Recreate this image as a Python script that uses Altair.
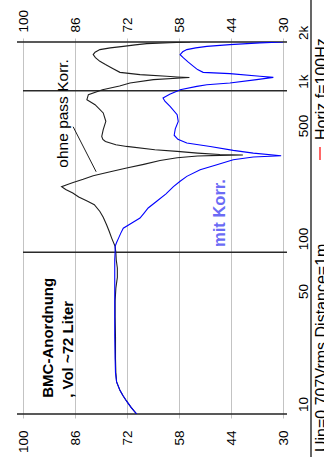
import altair as alt
import pandas as pd

# Frequency response, BMC arrangement, ~72 litre box
black_hz = [10, 11, 12, 13, 14, 15.8, 18, 22, 30, 40, 50, 60, 70, 80, 90, 100, 109, 122, 135, 148,
            165, 179, 197, 207, 220, 233, 245, 255, 262, 270, 283, 298, 315, 332, 350, 370, 385, 394,
            398, 400, 403, 411, 421, 431, 452, 463, 485, 500, 521, 574, 646, 728, 819, 880, 944, 1014,
            1070, 1116, 1170, 1198, 1205, 1215, 1227, 1256, 1298, 1382, 1450, 1519, 1600, 1671, 1730,
            1795, 1840, 1880, 1920, 1954, 1980, 2000]
black_db = [69.4, 70.9, 72.1, 73.1, 73.9, 74.8, 75.0, 75.1, 75.1, 75.2, 75.2, 75.0, 74.6, 74.6, 74.9,
            75.0, 75.2, 76.1, 76.8, 77.5, 78.4, 79.3, 80.8, 82.6, 85.0, 86.6, 88.5, 89.6, 88.2, 86.5,
            83.8, 81.1, 76.5, 72.1, 67.5, 63.1, 58.5, 53.0, 47.0, 40.8, 47.0, 53.0, 58.5, 64.5, 72.1,
            75.0, 77.8, 78.5, 78.8, 78.4, 77.7, 78.4, 80.6, 82.8, 82.4, 78.6, 74.0, 71.2, 64.9, 57.5,
            55.2, 58.5, 61.3, 68.5, 73.9, 76.1, 77.8, 79.3, 80.5, 81.1, 80.6, 79.3, 76.5, 73.0, 69.8,
            66.7, 60.5, 55.0]

blue_hz = [10, 11, 12, 13, 14, 15.8, 18, 22, 30, 40, 50, 60, 70, 80, 90, 100, 109, 115, 122, 131,
           141, 152, 163, 175, 188, 207, 230, 255, 275, 295, 324, 348, 374, 389, 396, 411, 427, 452,
           474, 500, 530, 580, 646, 710, 800, 860, 900, 950, 990, 1014, 1063, 1089, 1116, 1170, 1209,
           1227, 1274, 1298, 1350, 1414, 1500, 1594, 1671, 1740, 1795, 1840, 1880, 1926, 1974, 2000]
blue_db = [69.4, 70.9, 72.1, 73.1, 73.9, 74.8, 75.1, 75.2, 75.3, 75.3, 75.3, 75.3, 75.3, 75.3, 75.3,
           75.2, 75.2, 74.8, 74.3, 73.7, 73.0, 70.7, 68.5, 67.4, 66.3, 64.0, 61.5, 59.5, 57.7, 55.9,
           52.3, 47.8, 43.4, 38.0, 30.5, 38.0, 43.4, 49.6, 55.9, 58.3, 59.3, 59.0, 58.2, 58.5, 60.4,
           61.8, 62.3, 60.5, 58.6, 57.7, 53.2, 50.5, 44.3, 37.1, 32.6, 36.2, 44.3, 51.5, 53.0, 54.1,
           55.5, 56.8, 57.7, 57.0, 55.9, 53.5, 50.5, 44.3, 36.2, 30.0]

# Axes
db_ticks = [100, 86, 72, 58, 44, 30]
hz_grid = [10, 20, 30, 40, 50, 100, 200, 300, 400, 500, 1000, 2000]
hz_label_values = [10, 50, 100, 500, 1000, 2000]
hz_label_text = ["10", "50", "100", "500", "1k", "2k"]
hz_frame = [10, 2000]
hz_major = [100, 1000]

# Annotations
notes_text = ["BMC-Anordnung", ", Vol ~72 Liter"]
notes_db = [91.9, 86.5]
notes_hz = [12.6, 12.6]
ohne_text = ["ohne pass Korr."]
ohne_db = [87.9]
ohne_hz = [334]
mit_text = ["mit Korr."]
mit_db = [45.6]
mit_hz = [108]
pointer_db = [86.5, 80.3]
pointer_hz = [598, 315]

FONT = "Liberation Sans"
GREY = "#c3c3c3"

curves = pd.concat([
    pd.DataFrame({"hz": black_hz, "db": black_db, "series": "ohne", "i": range(len(black_hz))}),
    pd.DataFrame({"hz": blue_hz, "db": blue_db, "series": "mit", "i": range(len(blue_hz))}),
])

xscale = alt.Scale(domain=[30, 100], reverse=True, nice=False, zero=False)
yscale = alt.Scale(type="log", domain=[10, 2000], nice=False)


def X(**kw):
    return alt.X("db:Q", scale=xscale, **kw)


def Y(**kw):
    return alt.Y("hz:Q", scale=yscale, **kw)


# grid / axis carriers
bottom_axis = alt.Chart(pd.DataFrame({"db": db_ticks, "hz": [10] * len(db_ticks)})).mark_point(opacity=0).encode(
    x=X(axis=alt.Axis(
        orient="bottom", values=db_ticks, title=None, domain=False, grid=True, gridColor=GREY,
        gridOpacity=1, tickColor=GREY, tickSize=4, labelAngle=270, labelAlign="right",
        labelBaseline="middle", labelPadding=12, labelFont=FONT, labelFontSize=13.5,
        labelColor="black", labelOverlap=False)),
    y=Y(axis=alt.Axis(
        orient="right", values=hz_grid, title=None, domain=False, grid=True, gridColor=GREY,
        gridOpacity=1, tickColor=GREY, tickSize=4, labels=False)),
)

top_axis = alt.Chart(pd.DataFrame({"db": db_ticks, "hz": [10] * len(db_ticks)})).mark_point(opacity=0).encode(
    x=X(axis=alt.Axis(
        orient="top", values=db_ticks, title=None, domain=False, grid=False,
        tickColor=GREY, tickSize=4, labelAngle=270, labelAlign="left",
        labelBaseline="middle", labelPadding=6, labelFont=FONT, labelFontSize=13.5,
        labelColor="black", labelOverlap=False)),
    y=Y(axis=None),
)

# frequency labels beside the right edge, reading upwards from their grid line
hz_labels = alt.Chart(pd.DataFrame({"hz": hz_label_values, "t": hz_label_text})).mark_text(
    angle=270, align="left", baseline="top", font=FONT, fontSize=13.5, color="black", dx=2
).encode(y=Y(axis=None), x=alt.value(274), text="t:N")

frame_rules = alt.Chart(pd.DataFrame({"hz": hz_frame})).mark_rule(color="#222", strokeWidth=1.6).encode(
    y=Y(axis=None), x=alt.value(-6), x2=alt.value(264))
major_rules = alt.Chart(pd.DataFrame({"hz": hz_major})).mark_rule(color="#2a2a2a", strokeWidth=1.5).encode(
    y=Y(axis=None), x=alt.value(0), x2=alt.value(264))

lines = alt.Chart(curves).mark_line(strokeWidth=1.1, clip=True).encode(
    x=X(axis=None),
    y=Y(axis=None),
    color=alt.Color("series:N", scale=alt.Scale(domain=["ohne", "mit"], range=["#1e1e1e", "#0000ff"]), legend=None),
    order="i:Q",
    detail="series:N",
)

pointer = alt.Chart(pd.DataFrame({"db": pointer_db, "hz": pointer_hz})).mark_line(color="#1e1e1e", strokeWidth=1).encode(
    x=X(axis=None), y=Y(axis=None))

notes = alt.Chart(pd.DataFrame({"t": notes_text, "db": notes_db, "hz": notes_hz})).mark_text(
    angle=270, align="left", baseline="alphabetic", font=FONT, fontSize=15, fontWeight="bold", color="black"
).encode(x=X(axis=None), y=Y(axis=None), text="t:N")

ohne = alt.Chart(pd.DataFrame({"t": ohne_text, "db": ohne_db, "hz": ohne_hz})).mark_text(
    angle=270, align="left", baseline="alphabetic", font=FONT, fontSize=15.5, color="black"
).encode(x=X(axis=None), y=Y(axis=None), text="t:N")

mit = alt.Chart(pd.DataFrame({"t": mit_text, "db": mit_db, "hz": mit_hz})).mark_text(
    angle=270, align="left", baseline="alphabetic", font=FONT, fontSize=16.5, fontWeight="bold", color="#6b6bf5"
).encode(x=X(axis=None), y=Y(axis=None), text="t:N")

# caption strip at the right edge
cap_line = alt.Chart(pd.DataFrame({"k": [0]})).mark_rule(color="black", strokeWidth=1.2).encode(
    x=alt.value(288), y=alt.value(-42), y2=alt.value(415))
cap_text1 = alt.Chart(pd.DataFrame({"t": ["Uin=0.707Vrms  Distance=1m"]})).mark_text(
    angle=270, align="left", baseline="top", font=FONT, fontSize=16, color="black"
).encode(x=alt.value(291), y=alt.value(410), text="t:N")
cap_dash = alt.Chart(pd.DataFrame({"k": [0]})).mark_rule(color="red", strokeWidth=1.2).encode(
    x=alt.value(297), y=alt.value(105), y2=alt.value(118))
cap_text2 = alt.Chart(pd.DataFrame({"t": ["Horiz f=100Hz"]})).mark_text(
    angle=270, align="left", baseline="top", font=FONT, fontSize=16, color="black"
).encode(x=alt.value(291), y=alt.value(98), text="t:N")

chart = alt.layer(
    bottom_axis, top_axis, frame_rules, major_rules, lines, pointer, notes, ohne, mit,
    hz_labels, cap_line, cap_text1, cap_dash, cap_text2,
).resolve_axis(x="independent").properties(
    width=260, height=372, autosize="none",
    padding={"left": 23, "top": 42, "right": 41, "bottom": 43},
    background="white",
).configure_view(stroke=None)

chart.save("out.html", embed_options={"renderer": "svg", "actions": False})
